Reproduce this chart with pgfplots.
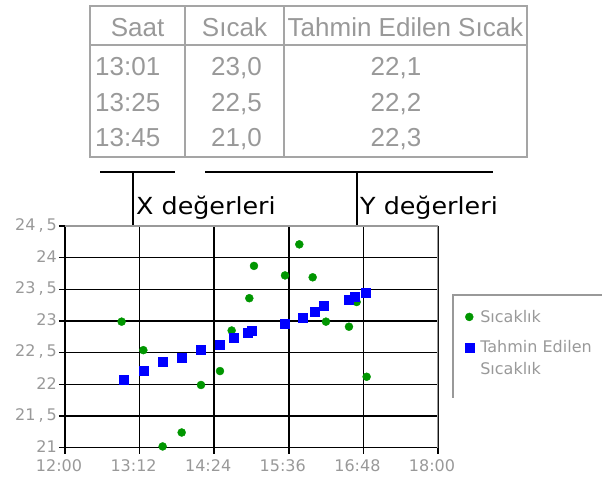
\documentclass[border=0pt]{standalone}
\usepackage{fontspec}
\setmainfont{DejaVu Sans}
\newfontfamily\libsans{Liberation Sans}
\usepackage{pgfplots}
\pgfplotsset{compat=1.18}
\definecolor{tgray}{RGB}{153,153,153}
\definecolor{lgray}{RGB}{165,165,165}
\definecolor{mgreen}{RGB}{0,150,0}
\definecolor{mblue}{RGB}{0,0,255}
\newcommand{\cm}{\kern3pt,\kern3pt}
\begin{document}
\begin{tikzpicture}[x=1pt,y=1pt]
% ---- table ----
\draw[lgray, line width=2pt] (90,330) rectangle (527,481);
\draw[lgray, line width=2pt] (90,442) -- (527,442);
\draw[lgray, line width=2pt] (185,330) -- (185,481);
\draw[lgray, line width=2pt] (284,330) -- (284,481);
\begin{scope}[every node/.style={inner sep=0pt, text=tgray, font=\libsans\fontsize{26}{30}\selectfont}]
\node[anchor=base] at (137.5,450) {Saat};
\node[anchor=base] at (234.5,450) {Sıcak};
\node[anchor=base] at (405.5,450) {Tahmin Edilen Sıcak};
\node[anchor=base west] at (95,411) {13:01};
\node[anchor=base west] at (95,375) {13:25};
\node[anchor=base west] at (95,340) {13:45};
\node[anchor=base] at (236.5,411) {23,0};
\node[anchor=base] at (236.5,375) {22,5};
\node[anchor=base] at (236.5,340) {21,0};
\node[anchor=base] at (396,411) {22,1};
\node[anchor=base] at (396,375) {22,2};
\node[anchor=base] at (396,340) {22,3};
\end{scope}
% ---- brackets ----
\draw[black, line width=1.7pt] (100,315) -- (175,315);
\draw[black, line width=1.7pt] (133,315) -- (133,262);
\draw[black, line width=1.7pt] (205,315) -- (493,315);
\draw[black, line width=1.7pt] (357,315) -- (357,262);
\node[anchor=base west, inner sep=0pt, font=\fontsize{23.5}{28}\selectfont, xscale=1.08] at (136,272) {X değerleri};
\node[anchor=base west, inner sep=0pt, font=\fontsize{23.5}{28}\selectfont, xscale=1.08] at (360,272) {Y değerleri};
% ---- chart ----
\begin{axis}[
  at={(65pt,39.3pt)}, anchor=south west, scale only axis,
  width=373pt, height=221.7pt,
  xmin=12, xmax=18, ymin=21, ymax=24.5,
  axis lines*=left, axis line style={-, black, line width=1.6pt},
  xtick={12,13.2,14.4,15.6,16.8,18},
  xticklabels={12:00,13:12,14:24,15:36,16:48,18:00},
  ytick={21,21.5,22,22.5,23,23.5,24,24.5},
  yticklabels={21,{21\cm5},22,{22\cm5},23,{23\cm5},24,{24\cm5}},
  grid=major, major grid style={black, line width=1.6pt},
  tick align=outside, major tick length=6pt,
  tick style={black, line width=1.6pt},
  ticklabel style={font=\fontsize{16}{19}\selectfont, text=tgray},
  xticklabel style={inner sep=0pt, yshift=-6pt, xshift=-6pt},
  yticklabel style={inner sep=0pt, xshift=-2pt, yshift=1pt},
  legend style={at={(1.0713,0.626)}, anchor=north west, draw=none, fill=none,
    inner sep=0pt, row sep=14.8pt, column sep=5.5pt,
    font=\fontsize{16}{19}\selectfont, text=tgray,
    nodes={inner sep=1pt}},
  legend cell align=left,
  legend image code/.code={\draw[#1] plot coordinates {(0pt,0pt)};},
]
\addplot[only marks, mark=*, mark size=4pt, mark options={draw=mgreen, fill=mgreen}] coordinates {
(12.911,22.99) (13.260,22.54) (13.571,21.02) (13.877,21.24)
(14.188,21.99) (14.493,22.21) (14.681,22.85) (14.965,23.36)
(15.040,23.87) (15.539,23.72) (15.769,24.21) (15.984,23.69)
(16.198,22.99) (16.568,22.91) (16.691,23.30) (16.852,22.12)
};
\addlegendentry{Sıcaklık}
\addplot[only marks, mark=square*, mark size=4.5pt, mark options={draw=mblue, fill=mblue}] coordinates {
(12.938,22.08) (13.260,22.21) (13.571,22.36) (13.877,22.42)
(14.188,22.54) (14.493,22.63) (14.718,22.74) (14.933,22.81)
(15.003,22.85) (15.539,22.96) (15.823,23.05) (16.021,23.15)
(16.166,23.24) (16.568,23.33) (16.665,23.39) (16.842,23.45)
};
\addlegendentry{\rlap{\smash{\raisebox{-22pt}{Sıcaklık}}}Tahmin Edilen}
\draw[tgray, line width=1.6pt] (rel axis cs:0,1) -- (rel axis cs:1,1) -- (rel axis cs:1,0);
\end{axis}
% legend frame
\draw[tgray, line width=1.4pt] (453,89) -- (453,192) -- (610,192);
\pgfresetboundingbox
\useasboundingbox (0,0) rectangle (602,487);
\end{tikzpicture}
\end{document}
